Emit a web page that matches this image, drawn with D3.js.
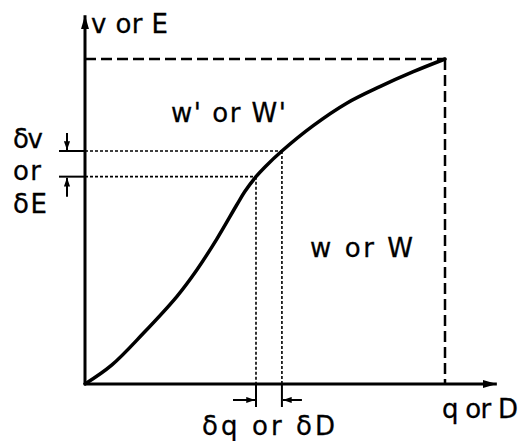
<!DOCTYPE html>
<html>
<head>
<meta charset="utf-8">
<script src="https://cdn.jsdelivr.net/npm/d3@7"></script>
<style>
  html, body { margin: 0; padding: 0; background: #fff; }
  svg { display: block; }
  text { font-family: "DejaVu Sans", sans-serif; font-size: 26px; fill: #000; stroke: #000; stroke-width: 0.3; }
</style>
</head>
<body>
<svg id="chart" width="524" height="441"></svg>
<script>
// Curve sampled along the q (or D) axis, normalised to the final point (1, 1)
const qValues = [0, 0.074, 0.162, 0.255, 0.31, 0.366, 0.421, 0.444, 0.475, 0.5, 0.547, 0.634, 0.727, 0.819, 0.912, 1];
const vValues = [0, 0.058, 0.156, 0.269, 0.350, 0.446, 0.55, 0.592, 0.638, 0.668, 0.717, 0.795, 0.864, 0.915, 0.961, 1];

// The increment pair: lower and upper points on the curve
const deltaQ = [0.475, 0.547];
const deltaV = [0.638, 0.717];

// Axis extents (data units)
const axisMax = { q: 1.144, v: 1.135 };
const endPoint = { q: 1, v: 1 };

// Labels
const labels = {
  yAxis: "v or E",
  xAxis: "q or D",
  above: "w' or W'",
  below: "w or W",
  dv: "δv",
  or: "or",
  dE: "δE",
  dq: "δq or δD"
};

const svg = d3.select("#chart");
const x = d3.scaleLinear().domain([0, 1]).range([85, 445]);
const y = d3.scaleLinear().domain([0, 1]).range([384, 59]);

const defs = svg.append("defs");
defs.append("marker")
  .attr("id", "axisHead").attr("viewBox", "0 0 14 10")
  .attr("refX", 14).attr("refY", 5)
  .attr("markerWidth", 14).attr("markerHeight", 10)
  .attr("markerUnits", "userSpaceOnUse").attr("orient", "auto")
  .append("path").attr("d", "M0,1 L14,5 L0,9 Z").attr("fill", "#000");
defs.append("marker")
  .attr("id", "smallHead").attr("viewBox", "0 0 10 8")
  .attr("refX", 10).attr("refY", 4)
  .attr("markerWidth", 9).attr("markerHeight", 7)
  .attr("markerUnits", "userSpaceOnUse").attr("orient", "auto")
  .append("path").attr("d", "M0,0.5 L10,4 L0,7.5 Z").attr("fill", "#000");

// Axes
svg.append("line")
  .attr("x1", x(0)).attr("y1", y(0)).attr("x2", x(0)).attr("y2", y(axisMax.v))
  .attr("stroke", "#000").attr("stroke-width", 3).attr("marker-end", "url(#axisHead)");
svg.append("line")
  .attr("x1", x(0)).attr("y1", y(0)).attr("x2", x(axisMax.q)).attr("y2", y(0))
  .attr("stroke", "#000").attr("stroke-width", 3).attr("marker-end", "url(#axisHead)");

// Dashed box to the end point
const dashed = svg.append("g").attr("stroke", "#000").attr("stroke-width", 2.5)
  .attr("stroke-dasharray", "11,5").attr("fill", "none");
dashed.append("line")
  .attr("x1", x(0)).attr("y1", y(endPoint.v)).attr("x2", x(endPoint.q)).attr("y2", y(endPoint.v));
dashed.append("line")
  .attr("x1", x(endPoint.q)).attr("y1", y(endPoint.v)).attr("x2", x(endPoint.q)).attr("y2", y(0));

// Dotted projections of the increment points
const dotted = svg.append("g").attr("stroke", "#000").attr("stroke-width", 1.6)
  .attr("stroke-dasharray", "3,2").attr("fill", "none");
deltaQ.forEach((q, i) => {
  const v = deltaV[i];
  dotted.append("line").attr("x1", x(0)).attr("y1", y(v)).attr("x2", x(q)).attr("y2", y(v));
  dotted.append("line").attr("x1", x(q)).attr("y1", y(v)).attr("x2", x(q)).attr("y2", y(0));
});

// The curve
const line = d3.line().x((d, i) => x(qValues[i])).y(d => y(d)).curve(d3.curveCatmullRom.alpha(0.5));
svg.append("path").datum(vValues)
  .attr("d", line).attr("fill", "none").attr("stroke", "#000").attr("stroke-width", 3.5)
  .attr("stroke-linecap", "round");

// Increment markers on the v axis
const marks = svg.append("g").attr("stroke", "#000").attr("stroke-width", 2);
deltaV.forEach(v => {
  marks.append("line").attr("x1", x(0) - 26).attr("y1", y(v)).attr("x2", x(0)).attr("y2", y(v));
});
marks.append("line").attr("x1", x(0) - 18).attr("y1", y(deltaV[1]) - 18)
  .attr("x2", x(0) - 18).attr("y2", y(deltaV[1]) - 1).attr("marker-end", "url(#smallHead)");
marks.append("line").attr("x1", x(0) - 18).attr("y1", y(deltaV[0]) + 20)
  .attr("x2", x(0) - 18).attr("y2", y(deltaV[0]) + 1).attr("marker-end", "url(#smallHead)");

// Increment markers on the q axis
deltaQ.forEach(q => {
  marks.append("line").attr("x1", x(q)).attr("y1", y(0)).attr("x2", x(q)).attr("y2", y(0) + 23);
});
marks.append("line").attr("x1", x(deltaQ[0]) - 23).attr("y1", y(0) + 16)
  .attr("x2", x(deltaQ[0]) - 1).attr("y2", y(0) + 16).attr("marker-end", "url(#smallHead)");
marks.append("line").attr("x1", x(deltaQ[1]) + 20).attr("y1", y(0) + 16)
  .attr("x2", x(deltaQ[1]) + 1).attr("y2", y(0) + 16).attr("marker-end", "url(#smallHead)");

// Text
function label(t, px, py, len) {
  svg.append("text").attr("x", px).attr("y", py).text(t)
    .attr("textLength", len).attr("lengthAdjust", "spacing");
}
label(labels.yAxis, 91, 33, 77);
label(labels.dv, 13, 148, 30);
label(labels.or, 13, 180, 28);
label(labels.dE, 13, 213, 34);
label(labels.above, 171, 122, 115);
label(labels.below, 310, 257, 103);
label(labels.dq, 202, 435, 133);
label(labels.xAxis, 442, 418, 76);
</script>
</body>
</html>
